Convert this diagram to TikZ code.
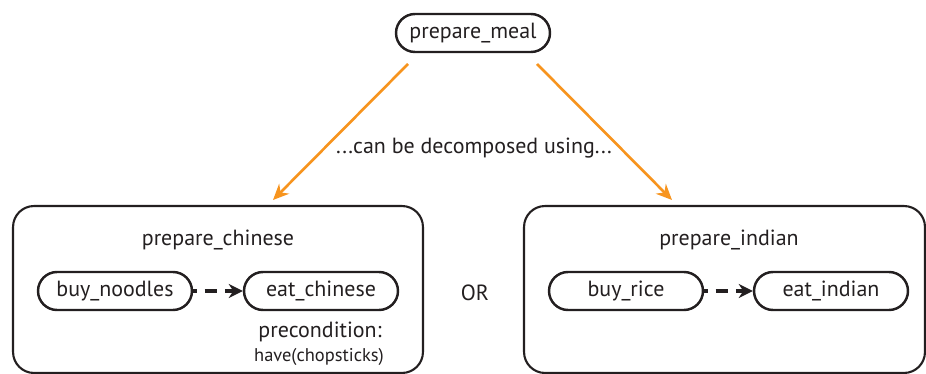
\documentclass[tikz,border=0pt]{standalone}
\usepackage{fontspec}
\setmainfont{PT Sans}
\usetikzlibrary{arrows.meta}
\definecolor{decompOrange}{HTML}{F7941E}
\definecolor{inkGray}{HTML}{231F20}

\begin{document}
\begin{tikzpicture}[x=0.02cm, y=-0.02cm, font=\fontsize{12.5}{15}\selectfont, color=inkGray]
	\tikzstyle{taskStyle}=[draw, rounded corners=0.38cm, line width=1.4pt, minimum width=3.08cm, minimum height=0.76cm, inner sep=0pt]
	\tikzstyle{methodStyle}=[draw, rounded corners=0.42cm, line width=1.2pt, minimum height=3.34cm, inner sep=0pt]
	\tikzstyle{decompStyle}=[-{Stealth[length=9pt,width=8pt]}, decompOrange, line width=1.5pt]
	\tikzstyle{orderStyle}=[-{Stealth[length=8pt,width=8pt]}, dash pattern=on 7pt off 4.5pt, dash phase=5pt, line width=2.2pt]
	\useasboundingbox (0,0) rectangle (926,374);
	% methods
	\node[methodStyle, minimum width=8.2cm] (chinese) at (218,289.5) {};
	\node[methodStyle, minimum width=8.02cm] (indian) at (724.5,289.5) {};
	\node (chineseLabel) at (218,240) {prepare\_chinese};
	\node (indianLabel) at (729,240) {prepare\_indian};
	% tasks
	\node[taskStyle] (meal) at (473,33) {prepare\_meal};
	\node[taskStyle] (noodles) at (115,291) {buy\_noodles};
	\node[taskStyle] (eatChinese) at (321,291) {eat\_chinese};
	\node[taskStyle] (rice) at (626,291) {buy\_rice};
	\node[taskStyle] (eatIndian) at (831,291) {eat\_indian};
	\node (precond) at (320,332) {precondition:};
	\node[font=\fontsize{10.5}{12}\selectfont] (precondArg) at (319,357) {have(chopsticks)};
	\node (or) at (475,293) {OR};
	\node (decompLabel) at (474,148) {...can be decomposed using...};
	% arrow ends
	\coordinate (mealLeft) at (408,64);
	\coordinate (mealRight) at (537,64);
	\coordinate (toChinese) at (273,200);
	\coordinate (toIndian) at (672,200);
	\draw[decompStyle] (mealLeft) -- (toChinese);
	\draw[decompStyle] (mealRight) -- (toIndian);
	\draw[orderStyle] (noodles) -- (eatChinese);
	\draw[orderStyle] (rice) -- (eatIndian);
\end{tikzpicture}
\end{document}
